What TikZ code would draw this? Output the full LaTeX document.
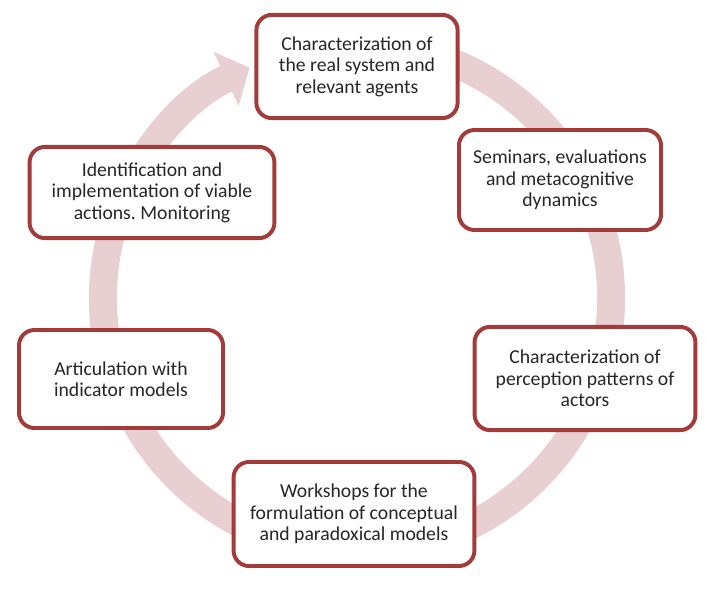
\documentclass[tikz,border=0pt]{standalone}
\usepackage{fontspec}
\setmainfont{Carlito}
\usepackage{xcolor}
\usetikzlibrary{arrows.meta}
\definecolor{bg}{HTML}{FFFFFF}
\definecolor{ink}{HTML}{262626}
\definecolor{boxred}{HTML}{A33B3B}
\definecolor{ringpink}{HTML}{E8D0D2}
\frenchspacing
\tikzset{
  stepcard/.style={
    rectangle,
    rounded corners=11pt,
    draw=boxred,
    line width=2.8pt,
    fill=white,
    text=ink,
    align=center,
    font=\fontsize{14}{15.2}\selectfont,
    inner sep=2pt
  },
  cyclering/.style={
    draw=ringpink,
    line width=0.7cm,
    -{Triangle[width=1.45cm,length=0.65cm]}
  }
}
\begin{document}
\begin{tikzpicture}[x=0.025cm,y=0.025cm]

% Background
\fill[bg] (0,0) rectangle (706,594);
\useasboundingbox (0,0) rectangle (706,594);

% ---------- Cycle ring ----------
\coordinate (ringc) at (357,296);
\draw[cyclering] (ringc) ++(80:6.35cm)
  arc[start angle=80, end angle=-245, radius=6.35cm];

% ---------- Step cards ----------
\node[stepcard, minimum width=5.03cm, minimum height=2.58cm] (charsys) at (357,527.5)
  {Characterization of\\the real system and\\relevant agents};
\node[stepcard, minimum width=5.05cm, minimum height=2.5cm] (seminars) at (560,414)
  {Seminars, evaluations\\and metacognitive\\dynamics};
\node[stepcard, minimum width=6.12cm, minimum height=2.28cm] (identif) at (152,401.5)
  {Identification and\\implementation of viable\\actions. Monitoring};
\node[stepcard, minimum width=5.1cm, minimum height=2.45cm] (articul) at (121,215)
  {Articulation with\\indicator models};
\node[stepcard, minimum width=5.52cm, minimum height=2.58cm] (percep) at (585,215.5)
  {Characterization of\\perception patterns of\\actors};
\node[stepcard, minimum width=6.02cm, minimum height=2.6cm] (workshop) at (354,80)
  {Workshops for the\\formulation of conceptual\\and paradoxical models};

\end{tikzpicture}
\end{document}
